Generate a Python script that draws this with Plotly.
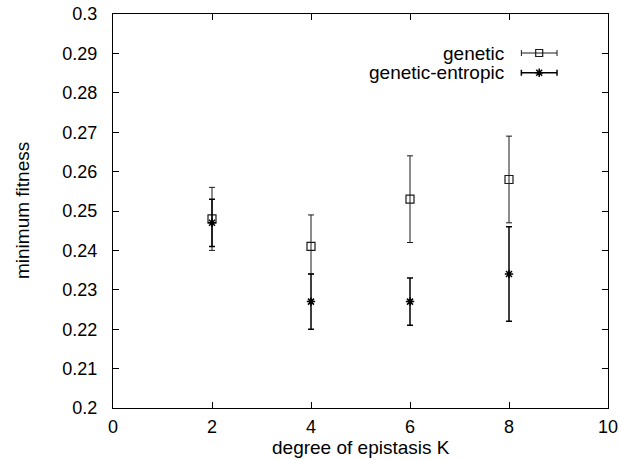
import plotly.graph_objects as go

K = [2, 4, 6, 8]
gen_mean = [0.248, 0.241, 0.253, 0.258]
gen_hi = [0.256, 0.249, 0.264, 0.269]
gen_lo = [0.240, 0.234, 0.242, 0.247]
ent_mean = [0.247, 0.227, 0.227, 0.234]
ent_hi = [0.253, 0.234, 0.233, 0.246]
ent_lo = [0.241, 0.220, 0.221, 0.222]

series_names = ["genetic", "genetic-entropic"]
x_ticks = [0, 2, 4, 6, 8, 10]
y_ticks = [0.2, 0.21, 0.22, 0.23, 0.24, 0.25, 0.26, 0.27, 0.28, 0.29, 0.3]

FONT = "Liberation Sans, Arial, Helvetica, sans-serif"
fs = 18
fs_title = 19

fig = go.Figure()

gen_col = "#1a1a1a"
ent_col = "#000000"

fig.add_trace(go.Scatter(
    x=K, y=gen_mean, mode="markers", name=series_names[0],
    marker=dict(symbol="square-open", size=8, color=gen_col, line=dict(width=1.2, color=gen_col)),
    error_y=dict(type="data", symmetric=False,
                 array=[h - m for h, m in zip(gen_hi, gen_mean)],
                 arrayminus=[m - l for m, l in zip(gen_mean, gen_lo)],
                 color=gen_col, thickness=1, width=3),
    showlegend=False))

fig.add_trace(go.Scatter(
    x=K, y=ent_mean, mode="markers", name=series_names[1],
    marker=dict(symbol="asterisk-open", size=7, color=ent_col, line=dict(width=1.5, color=ent_col)),
    error_y=dict(type="data", symmetric=False,
                 array=[h - m for h, m in zip(ent_hi, ent_mean)],
                 arrayminus=[m - l for m, l in zip(ent_mean, ent_lo)],
                 color=ent_col, thickness=1.5, width=3),
    showlegend=False))

# legend keys (gnuplot style) on an overlay axis spanning the plot area
leg_y = [0.901, 0.851]
leg_x = 0.861
fig.add_trace(go.Scatter(
    x=[leg_x], y=[leg_y[0]], xaxis="x2", yaxis="y2", mode="markers", showlegend=False,
    marker=dict(symbol="square-open", size=7, color=gen_col, line=dict(width=1.2, color=gen_col)),
    error_x=dict(type="constant", value=0.036, color=gen_col, thickness=1, width=3),
    hoverinfo="skip"))
fig.add_trace(go.Scatter(
    x=[leg_x], y=[leg_y[1]], xaxis="x2", yaxis="y2", mode="markers", showlegend=False,
    marker=dict(symbol="asterisk-open", size=7, color=ent_col, line=dict(width=1.5, color=ent_col)),
    error_x=dict(type="constant", value=0.036, color=ent_col, thickness=1.5, width=3),
    hoverinfo="skip"))

for name, yy in zip(series_names, leg_y):
    fig.add_annotation(x=0.794, y=yy, xref="paper", yref="paper", text=name,
                       showarrow=False, xanchor="right", yanchor="middle",
                       font=dict(family=FONT, size=fs_title, color="black"))

axis_common = dict(showgrid=False, zeroline=False, showline=True, linecolor="black",
                   linewidth=1.2, mirror="ticks", ticks="inside", ticklen=6,
                   tickcolor="black", tickwidth=1, automargin=False,
                   tickfont=dict(family=FONT, size=fs, color="black"))

fig.update_layout(
    width=619, height=460,
    margin=dict(l=113, r=11, t=14, b=52),
    paper_bgcolor="white", plot_bgcolor="white",
    font=dict(family=FONT, size=fs, color="black"),
    xaxis=dict(range=[0, 10], tickvals=x_ticks, ticktext=[str(v) for v in x_ticks],
               ticklabelstandoff=2, **axis_common),
    yaxis=dict(range=[0.2, 0.3], tickvals=y_ticks,
               ticktext=[("%g" % v) for v in y_ticks], ticklabelstandoff=11, **axis_common),
    xaxis2=dict(range=[0, 1], overlaying="x", visible=False),
    yaxis2=dict(range=[0, 1], overlaying="y", visible=False),
)

fig.add_annotation(x=0.5, y=0, xref="paper", yref="paper", yshift=-39,
                   text="degree of epistasis K", showarrow=False,
                   xanchor="center", yanchor="middle",
                   font=dict(family=FONT, size=fs_title, color="black"))
fig.add_annotation(x=0, y=0.5, xref="paper", yref="paper", xshift=-91,
                   text="minimum fitness", showarrow=False, textangle=-90,
                   xanchor="center", yanchor="middle",
                   font=dict(family=FONT, size=fs_title, color="black"))

fig.write_html("out.html", config={"displayModeBar": False})

# remove the default 8px page margin so the figure sits at the window origin
with open("out.html", "r", encoding="utf-8") as f:
    html = f.read()
html = html.replace("<head>", "<head><style>html,body{margin:0;padding:0;overflow:hidden;}</style>", 1)
with open("out.html", "w", encoding="utf-8") as f:
    f.write(html)
